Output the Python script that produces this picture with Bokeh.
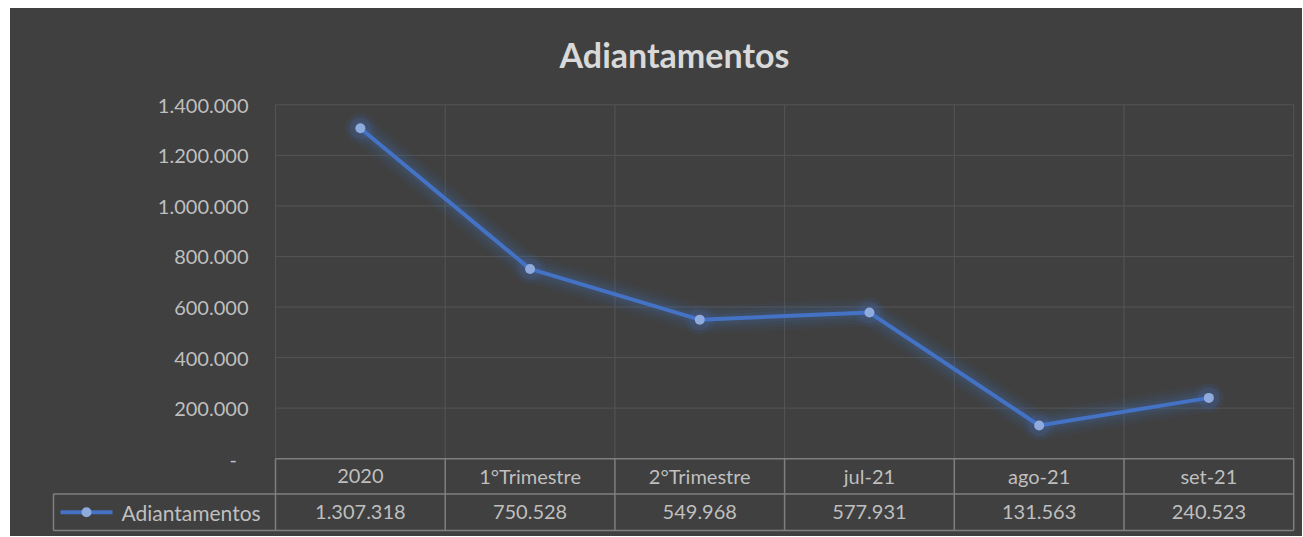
from bokeh.plotting import figure
from bokeh.models import Range1d, FixedTicker, CustomJSTickFormatter
from bokeh.core.properties import value
from bokeh.embed import file_html
from bokeh.resources import INLINE

# ---------------- data ----------------
title_text = "Adiantamentos"
series_name = "Adiantamentos"
categories = ["2020", "1°Trimestre", "2°Trimestre", "jul-21", "ago-21", "set-21"]
values = [1307318, 750528, 549968, 577931, 131563, 240523]
y_ticks = [0, 200000, 400000, 600000, 800000, 1000000, 1200000, 1400000]

# ---------------- layout constants (screen pixels) ----------------
OX, OY = 10, 8             # where the dark chart area starts
W, H = 1292, 528
FRAME_L, FRAME_R = 48, 1300
FRAME_T, FRAME_B = 96, 535
ZERO_SX, ZERO_SY = 275, 458
COL_PX = 169.7
TOP_SY = 103.3             # screen y of the top tick
UNITS_PER_PX = y_ticks[-1] / (ZERO_SY - TOP_SY)
HEADER_B_SY = 493.5
TABLE_B_SY = 530
LEGEND_L_SX = 53

BG = "#404040"
TEXT = "#bfbfbf"
GRID = "#545454"
TABLE = "#7f7f7f"
BLUE = "#4472c4"
MARKER = "#8faadc"


def sx_to_x(sx):
    return (sx - ZERO_SX) / COL_PX


def sy_to_y(sy):
    return (ZERO_SY - sy) * UNITS_PER_PX


p = figure(width=W, height=H,
           x_range=Range1d(sx_to_x(FRAME_L), sx_to_x(FRAME_R)),
           y_range=Range1d(sy_to_y(FRAME_B), sy_to_y(FRAME_T)),
           output_backend="svg", toolbar_location=None,
           min_border_left=FRAME_L - OX, min_border_right=OX + W - FRAME_R,
           min_border_top=FRAME_T - OY, min_border_bottom=OY + H - FRAME_B,
           background_fill_color=BG, border_fill_color=BG,
           outline_line_color=None)
p.margin = (OY, 0, 0, OX)
p.styles = {"background-color": BG}

p.title.text = title_text
p.title.align = "center"
p.title.offset = -3
p.title.text_font = "Lato"
p.title.text_font_style = "bold"
p.title.text_font_size = "34px"
p.title.text_color = "#d9d9d9"
p.title.standoff = 46

p.xaxis.visible = False
p.xgrid.visible = False
p.ygrid.visible = False

yax = p.yaxis[0]
yax.fixed_location = 0
yax.ticker = FixedTicker(ticks=y_ticks)
yax.formatter = CustomJSTickFormatter(code=r"""
if (tick == 0) { return "-\u2007"; }
return Math.round(tick).toString().replace(/\B(?=(\d{3})+(?!\d))/g, ".");
""")
yax.axis_line_color = None
yax.major_tick_line_color = None
yax.minor_tick_line_color = None
yax.major_tick_out = 0
yax.major_tick_in = 0
yax.minor_tick_out = 0
yax.major_label_standoff = 27
yax.major_label_text_font = "Lato"
yax.major_label_text_font_size = "20px"
yax.major_label_text_color = TEXT

n = len(categories)
xs = [i + 0.5 for i in range(n)]
bounds = list(range(n + 1))

# chart grid
p.segment(x0=[0] * (len(y_ticks) - 1), x1=[n] * (len(y_ticks) - 1),
          y0=y_ticks[1:], y1=y_ticks[1:], line_color=GRID, line_width=1)
p.segment(x0=bounds, x1=bounds, y0=[0] * len(bounds), y1=[y_ticks[-1]] * len(bounds),
          line_color=GRID, line_width=1)

# data table
hdr_b = sy_to_y(HEADER_B_SY)
tbl_b = sy_to_y(TABLE_B_SY)
leg_l = sx_to_x(LEGEND_L_SX)
p.segment(x0=bounds, x1=bounds, y0=[0] * len(bounds), y1=[tbl_b] * len(bounds),
          line_color=TABLE, line_width=1.5)
p.segment(x0=[0, leg_l, leg_l, leg_l], x1=[n, n, n, leg_l],
          y0=[0, hdr_b, tbl_b, hdr_b], y1=[0, hdr_b, tbl_b, tbl_b],
          line_color=TABLE, line_width=1.5)

value_labels = [f"{v:,}".replace(",", ".") for v in values]
p.text(x=xs, y=[hdr_b / 2] * n, text=categories, text_align="center",
       text_baseline="middle", text_font=value("Lato"), text_font_size="20px",
       text_color=TEXT)
row_mid = (hdr_b + tbl_b) / 2
p.text(x=xs, y=[row_mid] * n, text=value_labels, text_align="center",
       text_baseline="middle", text_font=value("Lato"), text_font_size="20px",
       text_color=TEXT)

# legend key inside the table
p.line(x=[sx_to_x(60), sx_to_x(112)], y=[row_mid, row_mid], line_color=BLUE, line_width=4)
p.scatter(x=[sx_to_x(86)], y=[row_mid], size=10, fill_color=MARKER, line_color=None)
p.text(x=[sx_to_x(121)], y=[row_mid], text=[series_name], text_align="left",
       text_baseline="middle", text_font=value("Lato"), text_font_size="21px",
       text_color=TEXT)

# glow
for w, a in [(28, 0.05), (22, 0.06), (16, 0.08), (10, 0.13)]:
    p.line(xs, values, line_color=BLUE, line_width=w, line_alpha=a,
           line_join="round", line_cap="round")
for s, a in [(30, 0.08), (22, 0.14)]:
    p.scatter(xs, values, size=s, fill_color=BLUE, fill_alpha=a, line_color=None)

p.line(xs, values, line_color=BLUE, line_width=4, line_join="round")
p.scatter(xs, values, size=10, fill_color=MARKER, line_color=None)

open("out.html", "w").write(file_html(p, INLINE))
